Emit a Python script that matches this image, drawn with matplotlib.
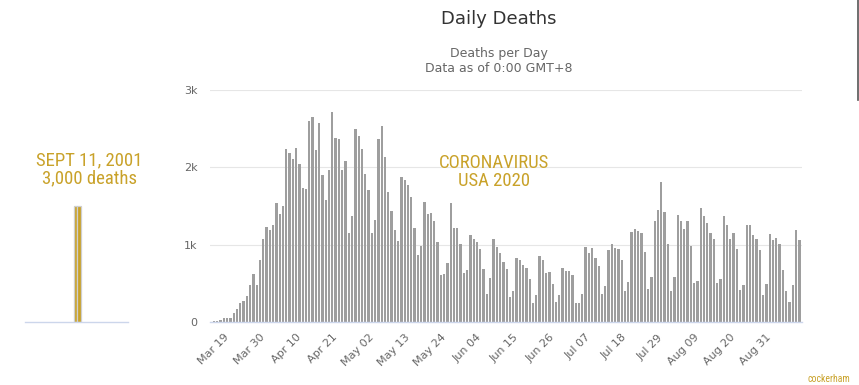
import numpy as np
import pandas as pd
import matplotlib.pyplot as plt
from matplotlib.lines import Line2D

# daily US deaths, Mar 15 - Sep 9 2020
deaths = [
    10, 15, 25, 50, 50, 50, 120, 165, 240, 275, 335, 475, 620, 480, 800, 1070,
    1230, 1190, 1260, 1540, 1400, 1500, 2240, 2190, 2110, 2250, 2040, 1730, 1715,
    2600, 2650, 2220, 2570, 1900, 1580, 1960, 2710, 2380, 2370, 1960, 2080,
    1150, 1370, 2490, 2410, 2240, 1910, 1710, 1150, 1315, 2360, 2535, 2140, 1685,
    1430, 1190, 1050, 1880, 1830, 1770, 1610, 1210, 865, 985, 1555, 1400, 1415,
    1300, 1030, 605, 615, 760, 1545, 1215, 1215, 1015, 635, 670, 1130, 1070, 1030,
    950, 685, 360, 575, 1070, 975,
    890, 770, 690, 320, 405, 830, 800, 735, 700, 560, 245, 345, 850, 800, 635, 645,
    490, 265, 345, 700, 660, 660, 605, 245, 245, 360, 975, 890, 955, 830, 720, 360,
    460, 930, 1005, 955, 945, 800, 405, 515, 1160, 1200, 1175, 1145, 900, 430,
    580, 1300, 1450, 1815, 1420, 1005, 405, 580, 1390, 1300, 1200, 1300, 985, 510,
    535, 1475, 1370, 1275, 1145, 1075, 505, 550, 1370, 1260, 1075, 1145, 950, 420,
    475, 1260, 1260, 1120, 1075, 930, 350, 490, 1135, 1060, 1090, 1005, 670, 405,
    265, 475, 1190, 1060,
]
dates = pd.date_range("2020-03-15", periods=len(deaths), freq="D")
tick_idx = list(range(4, len(deaths), 11))
tick_labels = [dates[i].strftime("%b %d") for i in tick_idx]

sept11 = [1500, 1500]
yticks = [0, 1000, 2000, 3000]
ylabels = ["0", "1k", "2k", "3k"]

gold = "#c9a22a"
W, H = 859, 385
fig = plt.figure(figsize=(W / 100, H / 100), dpi=100)

def box(x0, x1, ytop, ybot):
    return [x0 / W, 1 - ybot / H, (x1 - x0) / W, (ybot - ytop) / H]

# main chart
ax = fig.add_axes(box(210, 802, 90, 322))
x = np.arange(len(deaths))
ax.bar(x, deaths, width=0.7, color="#9e9e9e", zorder=2)
ax.set_xlim(-1.2, len(deaths) - 0.2)
ax.set_ylim(0, 3000)
ax.set_yticks(yticks)
ax.set_yticklabels(ylabels)
ax.set_xticks(tick_idx)
ax.set_xticklabels(tick_labels, rotation=45, ha="right", va="center",
                   rotation_mode="anchor")
ax.tick_params(axis="y", length=0, pad=9, labelsize=8, labelcolor="#666666")
ax.tick_params(axis="x", length=0, pad=10, labelsize=8, labelcolor="#666666")
ax.grid(axis="y", color="#e6e6e6", lw=0.8, zorder=0)
for s in ["top", "right", "left"]:
    ax.spines[s].set_visible(False)
ax.spines["bottom"].set_color("#ccd6eb")
ax.spines["bottom"].set_linewidth(1)
ax.spines["bottom"].set_zorder(3)

ann_font = ["Roboto Condensed", "Roboto", "DejaVu Sans"]
fig.text(494 / W, 1 - 172 / H, "CORONAVIRUS\nUSA 2020", ha="center", va="center",
         color=gold, fontsize=13.5, family=ann_font, linespacing=1.0)

# Sept 11 panel
ax2 = fig.add_axes(box(25, 128, 90, 322))
ax2.bar([0, 1], sept11, width=1.0, color=gold, edgecolor="#cfcfcf", lw=0.9, zorder=2)
ax2.set_xlim(-14.4, 15)
ax2.set_ylim(0, 3000)
ax2.set_xticks([])
ax2.set_yticks([])
for s in ["top", "right", "left"]:
    ax2.spines[s].set_visible(False)
ax2.spines["bottom"].set_color("#ccd6eb")
ax2.spines["bottom"].set_linewidth(1)
ax2.patch.set_alpha(0)
fig.text(89 / W, 1 - 169.5 / H, "SEPT 11, 2001\n3,000 deaths", ha="center", va="center",
         color=gold, fontsize=13.5, family=ann_font, linespacing=1.0)

# titles
fig.text(499 / W, 1 - 19 / H, "Daily Deaths", ha="center", va="center",
         fontsize=13, color="#333333")
fig.text(499 / W, 1 - 61 / H, "Deaths per Day\nData as of 0:00 GMT+8", ha="center",
         va="center", fontsize=9, color="#666666", linespacing=1.2)
fig.text(850 / W, 1 - 379 / H, "cockerham", ha="right", va="center",
         fontsize=7, color=gold, family=ann_font)

fig.add_artist(Line2D([857.5 / W, 857.5 / W], [1, 1 - 100 / H], color="#555555", lw=1.2))

fig.savefig("out.png", dpi=100)
